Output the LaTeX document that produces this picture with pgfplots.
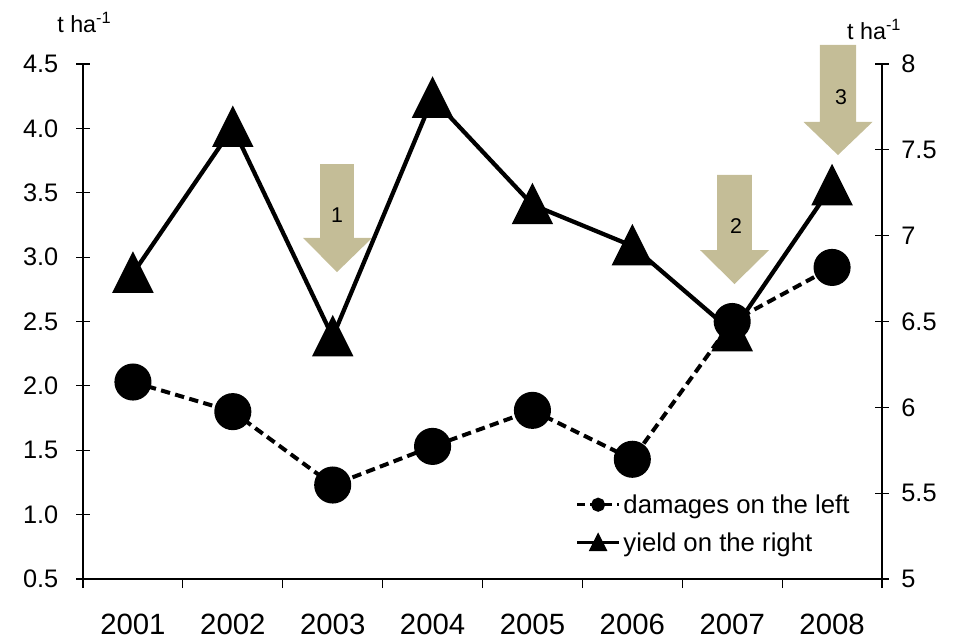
\documentclass[border=0pt]{standalone}
\usepackage{fontspec}
\setmainfont{Liberation Sans}
\usepackage{pgfplots}
\usepackage{pgfplotstable}
\pgfplotsset{compat=1.18}
\definecolor{arrowtan}{HTML}{C4BD97}
\pgfdeclareplotmark{bbtri}{%
 \pgfpathmoveto{\pgfqpoint{0pt}{\pgfplotmarksize}}%
 \pgfpathlineto{\pgfqpoint{\pgfplotmarksize}{-\pgfplotmarksize}}%
 \pgfpathlineto{\pgfqpoint{-\pgfplotmarksize}{-\pgfplotmarksize}}%
 \pgfpathclose\pgfusepathqfillstroke}

\pgfplotstableread{
idx year damages
0 2001 2.03
1 2002 1.80
2 2003 1.23
3 2004 1.53
4 2005 1.81
5 2006 1.43
6 2007 2.50
7 2008 2.92
}\damages
\pgfplotstableread{
idx year yield
0 2001 6.78
1 2002 7.63
2 2003 6.41
3 2004 7.80
4 2005 7.18
5 2006 6.94
6 2007 6.44
7 2008 7.29
}\yield

\begin{document}
\begin{tikzpicture}
\pgfplotsset{
  base/.style={scale only axis, width=599.25pt, height=386.25pt,
    xmin=-0.5, xmax=7.5, clip=false,
    /pgf/number format/assume math mode=true,
    tick align=center,
    major tick length=10pt,
    tick style={black, line width=0.8pt},
    axis line style={black, line width=0.8pt},
    yticklabel style={font=\fontsize{19pt}{22pt}\selectfont},
  },
  damstyle/.style={black, line width=3pt, dash pattern=on 7pt off 4pt, mark=*, mark options={solid}},
  yldstyle/.style={black, line width=3.2pt, mark=bbtri, mark options={solid}},
}
\begin{axis}[base, ymin=0.5, ymax=4.5,
  axis x line*=bottom, axis y line*=left,
  xtick={0,...,7},
  xticklabels={2001,2002,2003,2004,2005,2006,2007,2008},
  major x tick style={draw=none},
  minor xtick={-0.5,0.5,...,7.5},
  minor tick length=6.75pt,
  minor x tick style={yshift=-3.375pt, black, line width=0.8pt},
  xticklabel style={font=\fontsize{22pt}{26pt}\selectfont, anchor=north, yshift=-18pt},
  ytick={0.5,1,...,4.5},
  yticklabel style={/pgf/number format/fixed, /pgf/number format/fixed zerofill, /pgf/number format/precision=1, xshift=-10pt},
]
\path (rel axis cs:-0.1039,-0.1165) rectangle (rel axis cs:1.0926,1.1243);
% arrows
\fill[arrowtan] (axis cs:1.873,3.723) -- (axis cs:2.213,3.723) -- (axis cs:2.213,3.149) -- (axis cs:2.394,3.149)
  -- (axis cs:2.043,2.884) -- (axis cs:1.703,3.149) -- (axis cs:1.873,3.149) -- cycle;
\fill[arrowtan] (axis cs:5.848,3.638) -- (axis cs:6.198,3.638) -- (axis cs:6.198,3.055) -- (axis cs:6.369,3.055)
  -- (axis cs:6.023,2.791) -- (axis cs:5.678,3.055) -- (axis cs:5.848,3.055) -- cycle;
\fill[arrowtan] (axis cs:6.879,4.648) -- (axis cs:7.240,4.648) -- (axis cs:7.240,4.050) -- (axis cs:7.405,4.050)
  -- (axis cs:7.059,3.793) -- (axis cs:6.714,4.050) -- (axis cs:6.879,4.050) -- cycle;
\node[font=\fontsize{16pt}{19pt}\selectfont] at (axis cs:2.043,3.327) {1};
\node[font=\fontsize{16pt}{19pt}\selectfont] at (axis cs:6.038,3.242) {2};
\node[font=\fontsize{16pt}{19pt}\selectfont] at (axis cs:7.089,4.244) {3};
\node[anchor=base west, inner sep=0pt, font=\fontsize{17.5pt}{20pt}\selectfont] at (rel axis cs:-0.0325,1.0621) {t ha\textsuperscript{-1}};
\node[anchor=base west, inner sep=0pt, font=\fontsize{17.5pt}{20pt}\selectfont] at (rel axis cs:0.956,1.0485) {t ha\textsuperscript{-1}};
\addplot[damstyle, mark size=12.4pt] table[x=idx, y=damages] {\damages};
\end{axis}
\begin{axis}[base, ymin=5, ymax=8,
  axis x line=none, axis y line*=right,
  ytick={5,5.5,...,8},
  yticklabel style={anchor=west, xshift=6pt},
  legend style={at={(rel axis cs:0.616,0.170)}, anchor=north west, draw=none, fill=none,
    font=\fontsize{19.3pt}{22pt}\selectfont, row sep=9pt, inner sep=0pt},
  legend cell align=left,
  legend image code/.code={\draw[mark repeat=2, mark phase=2, #1] plot coordinates {(0pt,0pt) (15.75pt,0pt) (31.5pt,0pt)};},
]
\addlegendimage{black, line width=2.5pt, dash pattern=on 6pt off 4pt, mark=*, mark size=4pt, mark options={solid}}
\addlegendentry{damages on the left}
\addlegendimage{black, line width=2.5pt, mark=bbtri, mark size=5pt, mark options={solid}}
\addlegendentry{yield on the right}
\addplot[yldstyle, mark size=13pt, forget plot] table[x=idx, y=yield] {\yield};
\end{axis}
\end{tikzpicture}
\end{document}
